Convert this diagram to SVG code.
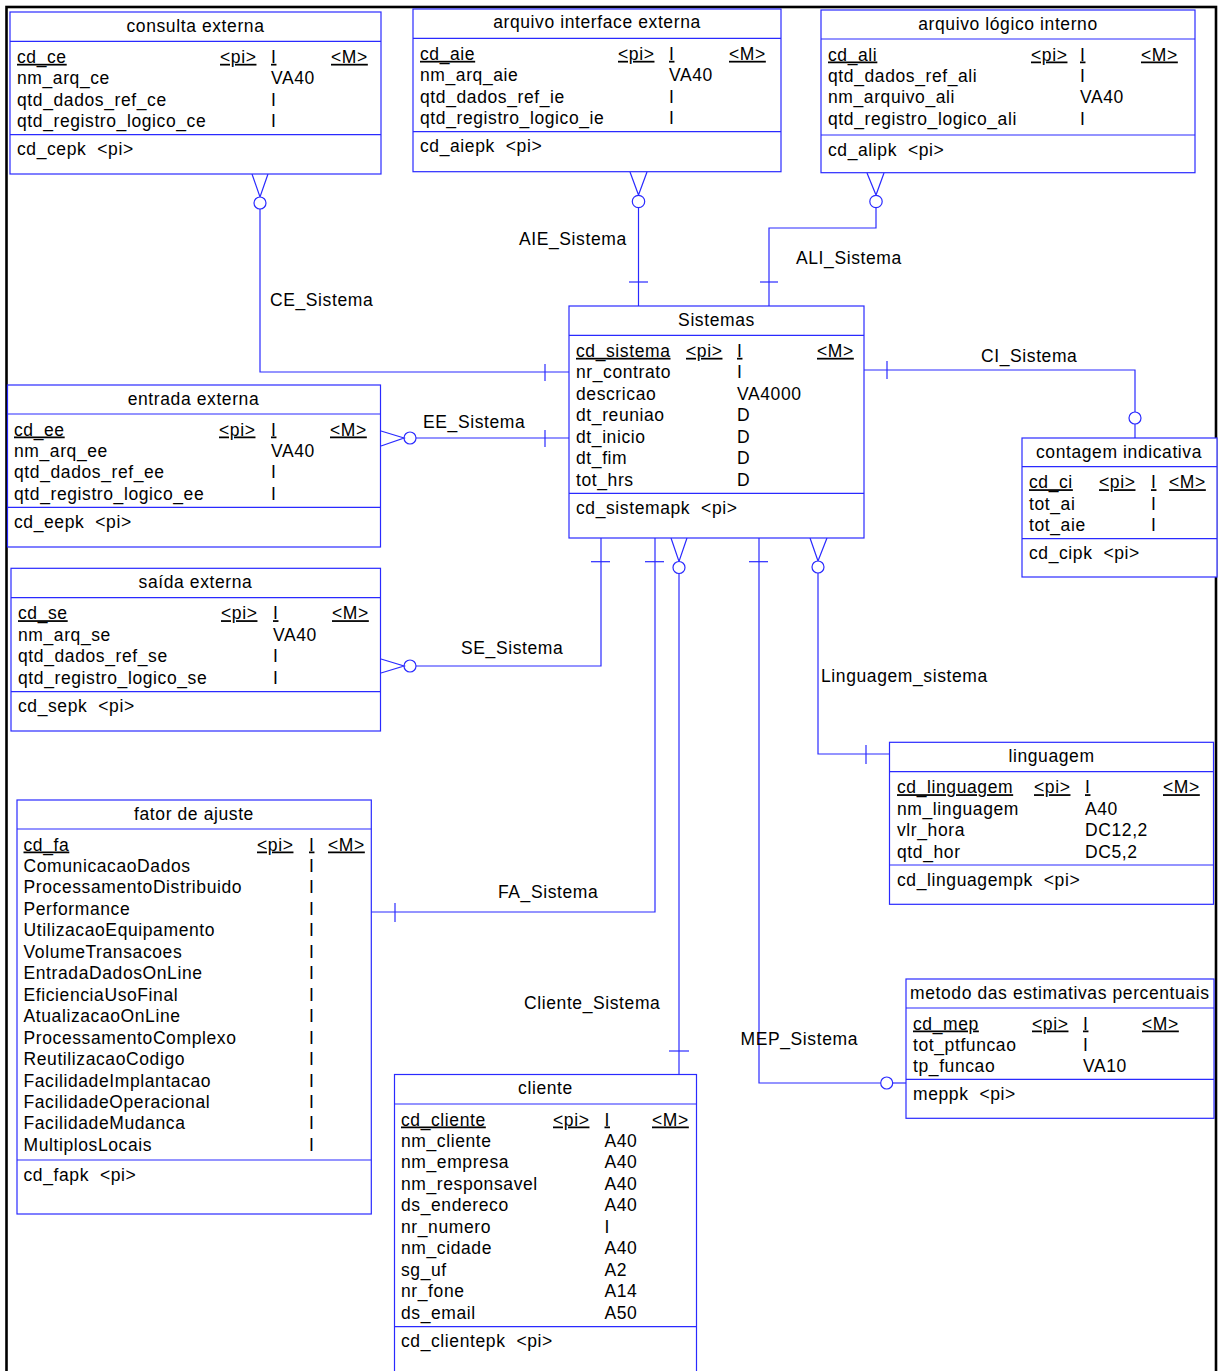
<svg xmlns="http://www.w3.org/2000/svg" width="1218" height="1371" viewBox="0 0 1218 1371">
<style>
.box{fill:#fff;stroke:#2a2aff;stroke-width:1.2}
.sep{stroke:#2a2aff;stroke-width:1.2}
.ln{fill:none;stroke:#2a2aff;stroke-width:1.2}
.ci{fill:#fff;stroke:#2a2aff;stroke-width:1.2}
text{font-family:"Liberation Sans",Arial,Helvetica,sans-serif;font-size:17.5px;letter-spacing:0.6px;fill:#000}
.t{text-anchor:middle}
.u{text-decoration:underline}
</style>
<rect x="0" y="0" width="1218" height="1371" fill="#fff"/>
<rect x="6.5" y="7" width="1209.5" height="1420" fill="none" stroke="#000" stroke-width="2.6"/>

<g id="connectors">
  <!-- CE_Sistema -->
  <path class="ln" d="M252,174 L260,197 L268,174"/>
  <circle class="ci" cx="260" cy="203" r="6"/>
  <path class="ln" d="M260,209 V372 H569"/>
  <path class="ln" d="M545,364 V381"/>
  <text x="270" y="306">CE_Sistema</text>
  <!-- AIE_Sistema -->
  <path class="ln" d="M630,172 L638.5,195 L647,172"/>
  <circle class="ci" cx="638.5" cy="201.5" r="6.2"/>
  <path class="ln" d="M638.5,208 V306"/>
  <path class="ln" d="M629,282 H648"/>
  <text x="519" y="245">AIE_Sistema</text>
  <!-- ALI_Sistema -->
  <path class="ln" d="M867,173 L876,195 L884,173"/>
  <circle class="ci" cx="876" cy="201.5" r="6.2"/>
  <path class="ln" d="M876,208 V228 H769 V306"/>
  <path class="ln" d="M760,282 H778"/>
  <text x="796" y="264">ALI_Sistema</text>
  <!-- CI_Sistema -->
  <path class="ln" d="M864,370 H1135 V412"/>
  <circle class="ci" cx="1135" cy="418" r="6"/>
  <path class="ln" d="M1135,424 V438"/>
  <path class="ln" d="M887,361 V379"/>
  <text x="981" y="361.5">CI_Sistema</text>
  <!-- EE_Sistema -->
  <path class="ln" d="M569,438 H416"/>
  <circle class="ci" cx="410" cy="438" r="6"/>
  <path class="ln" d="M381,431 L404,438 L381,446"/>
  <path class="ln" d="M545,430 V447"/>
  <text x="423" y="427.5">EE_Sistema</text>
  <!-- SE_Sistema -->
  <path class="ln" d="M601,538 V666 H416"/>
  <circle class="ci" cx="410" cy="666" r="6"/>
  <path class="ln" d="M381,659 L404,666 L381,673"/>
  <path class="ln" d="M591,561.7 H610"/>
  <text x="461" y="654">SE_Sistema</text>
  <!-- FA_Sistema -->
  <path class="ln" d="M655,538 V912 H371"/>
  <path class="ln" d="M645,561.7 H664"/>
  <path class="ln" d="M395,903 V922"/>
  <text x="498" y="898">FA_Sistema</text>
  <!-- Cliente_Sistema -->
  <path class="ln" d="M671,538 L679,561.5 L687,538"/>
  <circle class="ci" cx="679" cy="567.5" r="6"/>
  <path class="ln" d="M679,573.5 V1074.5"/>
  <path class="ln" d="M669,1051 H689"/>
  <text x="524" y="1009">Cliente_Sistema</text>
  <!-- MEP_Sistema -->
  <path class="ln" d="M759,538 V1083 H880.7"/>
  <circle class="ci" cx="886.7" cy="1083" r="6"/>
  <path class="ln" d="M892.7,1083 H906"/>
  <path class="ln" d="M749,561.7 H768"/>
  <text x="740.5" y="1045">MEP_Sistema</text>
  <!-- Linguagem_sistema -->
  <path class="ln" d="M810,538 L818,561 L827,538"/>
  <circle class="ci" cx="818" cy="567" r="6"/>
  <path class="ln" d="M818,573 V754 H889.5"/>
  <path class="ln" d="M866,745 V764"/>
  <text x="821" y="681.5">Linguagem_sistema</text>
</g>

<g id="consulta_externa">
  <rect class="box" x="10" y="12" width="371" height="162"/>
  <line class="sep" x1="10" y1="41.3" x2="381" y2="41.3"/>
  <line class="sep" x1="10" y1="134.7" x2="381" y2="134.7"/>
  <text class="t" x="195.5" y="31.5">consulta externa</text>
  <text class="u" x="17" y="62.8">cd_ce</text><text class="u" x="220" y="62.8">&lt;pi&gt;</text><text class="u" x="271" y="62.8">I</text><text class="u" x="331" y="62.8">&lt;M&gt;</text>
  <text x="17" y="84.3">nm_arq_ce</text><text x="271" y="84.3">VA40</text>
  <text x="17" y="105.7">qtd_dados_ref_ce</text><text x="271" y="105.7">I</text>
  <text x="17" y="127.2">qtd_registro_logico_ce</text><text x="271" y="127.2">I</text>
  <text x="17" y="155.2" xml:space="preserve">cd_cepk  &lt;pi&gt;</text>
</g>

<g id="arquivo_interface_externa">
  <rect class="box" x="413" y="9" width="368" height="162.7"/>
  <line class="sep" x1="413" y1="38.3" x2="781" y2="38.3"/>
  <line class="sep" x1="413" y1="131.7" x2="781" y2="131.7"/>
  <text class="t" x="597" y="27.5">arquivo interface externa</text>
  <text class="u" x="420" y="59.8">cd_aie</text><text class="u" x="618" y="59.8">&lt;pi&gt;</text><text class="u" x="669" y="59.8">I</text><text class="u" x="729" y="59.8">&lt;M&gt;</text>
  <text x="420" y="81.3">nm_arq_aie</text><text x="669" y="81.3">VA40</text>
  <text x="420" y="102.7">qtd_dados_ref_ie</text><text x="669" y="102.7">I</text>
  <text x="420" y="124.2">qtd_registro_logico_ie</text><text x="669" y="124.2">I</text>
  <text x="420" y="152.2" xml:space="preserve">cd_aiepk  &lt;pi&gt;</text>
</g>

<g id="arquivo_logico_interno">
  <rect class="box" x="821" y="10" width="374" height="162.7"/>
  <line class="sep" x1="821" y1="39" x2="1195" y2="39"/>
  <line class="sep" x1="821" y1="135" x2="1195" y2="135"/>
  <text class="t" x="1008" y="29.5">arquivo lógico interno</text>
  <text class="u" x="828" y="60.5">cd_ali</text><text class="u" x="1031" y="60.5">&lt;pi&gt;</text><text class="u" x="1080" y="60.5">I</text><text class="u" x="1141" y="60.5">&lt;M&gt;</text>
  <text x="828" y="82">qtd_dados_ref_ali</text><text x="1080" y="82">I</text>
  <text x="828" y="103.4">nm_arquivo_ali</text><text x="1080" y="103.4">VA40</text>
  <text x="828" y="124.9">qtd_registro_logico_ali</text><text x="1080" y="124.9">I</text>
  <text x="828" y="155.5" xml:space="preserve">cd_alipk  &lt;pi&gt;</text>
</g>

<g id="sistemas">
  <rect class="box" x="569" y="306" width="295" height="232"/>
  <line class="sep" x1="569" y1="335.3" x2="864" y2="335.3"/>
  <line class="sep" x1="569" y1="493.3" x2="864" y2="493.3"/>
  <text class="t" x="716.5" y="325.5">Sistemas</text>
  <text class="u" x="576" y="356.8">cd_sistema</text><text class="u" x="686" y="356.8">&lt;pi&gt;</text><text class="u" x="737" y="356.8">I</text><text class="u" x="817" y="356.8">&lt;M&gt;</text>
  <text x="576" y="378.3">nr_contrato</text><text x="737" y="378.3">I</text>
  <text x="576" y="399.7">descricao</text><text x="737" y="399.7">VA4000</text>
  <text x="576" y="421.2">dt_reuniao</text><text x="737" y="421.2">D</text>
  <text x="576" y="442.6">dt_inicio</text><text x="737" y="442.6">D</text>
  <text x="576" y="464.1">dt_fim</text><text x="737" y="464.1">D</text>
  <text x="576" y="485.5">tot_hrs</text><text x="737" y="485.5">D</text>
  <text x="576" y="513.8" xml:space="preserve">cd_sistemapk  &lt;pi&gt;</text>
</g>

<g id="contagem_indicativa">
  <rect class="box" x="1022" y="438" width="195" height="139"/>
  <line class="sep" x1="1022" y1="466.7" x2="1217" y2="466.7"/>
  <line class="sep" x1="1022" y1="538.7" x2="1217" y2="538.7"/>
  <text class="t" x="1119" y="457.5">contagem indicativa</text>
  <text class="u" x="1029" y="488.2">cd_ci</text><text class="u" x="1099" y="488.2">&lt;pi&gt;</text><text class="u" x="1151" y="488.2">I</text><text class="u" x="1169" y="488.2">&lt;M&gt;</text>
  <text x="1029" y="509.7">tot_ai</text><text x="1151" y="509.7">I</text>
  <text x="1029" y="531.1">tot_aie</text><text x="1151" y="531.1">I</text>
  <text x="1029" y="559.2" xml:space="preserve">cd_cipk  &lt;pi&gt;</text>
</g>

<g id="entrada_externa">
  <rect class="box" x="7.5" y="385" width="373" height="162"/>
  <line class="sep" x1="7.5" y1="414" x2="380.5" y2="414"/>
  <line class="sep" x1="7.5" y1="507.3" x2="380.5" y2="507.3"/>
  <text class="t" x="193.5" y="404.5">entrada externa</text>
  <text class="u" x="14" y="435.5">cd_ee</text><text class="u" x="219" y="435.5">&lt;pi&gt;</text><text class="u" x="271" y="435.5">I</text><text class="u" x="330" y="435.5">&lt;M&gt;</text>
  <text x="14" y="457">nm_arq_ee</text><text x="271" y="457">VA40</text>
  <text x="14" y="478.4">qtd_dados_ref_ee</text><text x="271" y="478.4">I</text>
  <text x="14" y="499.9">qtd_registro_logico_ee</text><text x="271" y="499.9">I</text>
  <text x="14" y="527.8" xml:space="preserve">cd_eepk  &lt;pi&gt;</text>
</g>

<g id="saida_externa">
  <rect class="box" x="11" y="568.3" width="369.5" height="162.7"/>
  <line class="sep" x1="11" y1="597.7" x2="380.5" y2="597.7"/>
  <line class="sep" x1="11" y1="691.7" x2="380.5" y2="691.7"/>
  <text class="t" x="195.5" y="587.8">saída externa</text>
  <text class="u" x="18" y="619.2">cd_se</text><text class="u" x="221" y="619.2">&lt;pi&gt;</text><text class="u" x="273" y="619.2">I</text><text class="u" x="332" y="619.2">&lt;M&gt;</text>
  <text x="18" y="640.7">nm_arq_se</text><text x="273" y="640.7">VA40</text>
  <text x="18" y="662.1">qtd_dados_ref_se</text><text x="273" y="662.1">I</text>
  <text x="18" y="683.6">qtd_registro_logico_se</text><text x="273" y="683.6">I</text>
  <text x="18" y="712.2" xml:space="preserve">cd_sepk  &lt;pi&gt;</text>
</g>

<g id="fator_de_ajuste">
  <rect class="box" x="17" y="800" width="354.3" height="414"/>
  <line class="sep" x1="17" y1="829" x2="371.3" y2="829"/>
  <line class="sep" x1="17" y1="1160" x2="371.3" y2="1160"/>
  <text class="t" x="194" y="819.5">fator de ajuste</text>
  <text class="u" x="23.5" y="850.5">cd_fa</text><text class="u" x="257" y="850.5">&lt;pi&gt;</text><text class="u" x="309" y="850.5">I</text><text class="u" x="328" y="850.5">&lt;M&gt;</text>
  <text x="23.5" y="872">ComunicacaoDados</text><text x="309" y="872">I</text>
  <text x="23.5" y="893.4">ProcessamentoDistribuido</text><text x="309" y="893.4">I</text>
  <text x="23.5" y="914.9">Performance</text><text x="309" y="914.9">I</text>
  <text x="23.5" y="936.3">UtilizacaoEquipamento</text><text x="309" y="936.3">I</text>
  <text x="23.5" y="957.8">VolumeTransacoes</text><text x="309" y="957.8">I</text>
  <text x="23.5" y="979.2">EntradaDadosOnLine</text><text x="309" y="979.2">I</text>
  <text x="23.5" y="1000.7">EficienciaUsoFinal</text><text x="309" y="1000.7">I</text>
  <text x="23.5" y="1022.1">AtualizacaoOnLine</text><text x="309" y="1022.1">I</text>
  <text x="23.5" y="1043.6">ProcessamentoComplexo</text><text x="309" y="1043.6">I</text>
  <text x="23.5" y="1065">ReutilizacaoCodigo</text><text x="309" y="1065">I</text>
  <text x="23.5" y="1086.5">FacilidadeImplantacao</text><text x="309" y="1086.5">I</text>
  <text x="23.5" y="1107.9">FacilidadeOperacional</text><text x="309" y="1107.9">I</text>
  <text x="23.5" y="1129.4">FacilidadeMudanca</text><text x="309" y="1129.4">I</text>
  <text x="23.5" y="1150.8">MultiplosLocais</text><text x="309" y="1150.8">I</text>
  <text x="23.5" y="1180.5" xml:space="preserve">cd_fapk  &lt;pi&gt;</text>
</g>

<g id="cliente">
  <rect class="box" x="394.5" y="1074.5" width="302" height="340"/>
  <line class="sep" x1="394.5" y1="1104" x2="696.5" y2="1104"/>
  <line class="sep" x1="394.5" y1="1326.7" x2="696.5" y2="1326.7"/>
  <text class="t" x="545.5" y="1094">cliente</text>
  <text class="u" x="401" y="1125.5">cd_cliente</text><text class="u" x="553" y="1125.5">&lt;pi&gt;</text><text class="u" x="604.5" y="1125.5">I</text><text class="u" x="652" y="1125.5">&lt;M&gt;</text>
  <text x="401" y="1147">nm_cliente</text><text x="604.5" y="1147">A40</text>
  <text x="401" y="1168.4">nm_empresa</text><text x="604.5" y="1168.4">A40</text>
  <text x="401" y="1189.9">nm_responsavel</text><text x="604.5" y="1189.9">A40</text>
  <text x="401" y="1211.3">ds_endereco</text><text x="604.5" y="1211.3">A40</text>
  <text x="401" y="1232.8">nr_numero</text><text x="604.5" y="1232.8">I</text>
  <text x="401" y="1254.2">nm_cidade</text><text x="604.5" y="1254.2">A40</text>
  <text x="401" y="1275.7">sg_uf</text><text x="604.5" y="1275.7">A2</text>
  <text x="401" y="1297.1">nr_fone</text><text x="604.5" y="1297.1">A14</text>
  <text x="401" y="1318.6">ds_email</text><text x="604.5" y="1318.6">A50</text>
  <text x="401" y="1347.2" xml:space="preserve">cd_clientepk  &lt;pi&gt;</text>
</g>

<g id="metodo_estimativas_percentuais">
  <rect class="box" x="906" y="979" width="308" height="139.3"/>
  <line class="sep" x1="906" y1="1008" x2="1214" y2="1008"/>
  <line class="sep" x1="906" y1="1079.3" x2="1214" y2="1079.3"/>
  <text x="910" y="998.5">metodo das estimativas percentuais</text>
  <text class="u" x="913" y="1029.5">cd_mep</text><text class="u" x="1032" y="1029.5">&lt;pi&gt;</text><text class="u" x="1083" y="1029.5">I</text><text class="u" x="1142" y="1029.5">&lt;M&gt;</text>
  <text x="913" y="1051">tot_ptfuncao</text><text x="1083" y="1051">I</text>
  <text x="913" y="1072.4">tp_funcao</text><text x="1083" y="1072.4">VA10</text>
  <text x="913" y="1099.8" xml:space="preserve">meppk  &lt;pi&gt;</text>
</g>

<g id="linguagem">
  <rect class="box" x="889.5" y="742.3" width="324" height="162"/>
  <line class="sep" x1="889.5" y1="771.7" x2="1213.5" y2="771.7"/>
  <line class="sep" x1="889.5" y1="865" x2="1213.5" y2="865"/>
  <text class="t" x="1051.5" y="761.8">linguagem</text>
  <text class="u" x="897" y="793.2">cd_linguagem</text><text class="u" x="1034" y="793.2">&lt;pi&gt;</text><text class="u" x="1085" y="793.2">I</text><text class="u" x="1163" y="793.2">&lt;M&gt;</text>
  <text x="897" y="814.7">nm_linguagem</text><text x="1085" y="814.7">A40</text>
  <text x="897" y="836.1">vlr_hora</text><text x="1085" y="836.1">DC12,2</text>
  <text x="897" y="857.6">qtd_hor</text><text x="1085" y="857.6">DC5,2</text>
  <text x="897" y="885.5" xml:space="preserve">cd_linguagempk  &lt;pi&gt;</text>
</g>
</svg>
